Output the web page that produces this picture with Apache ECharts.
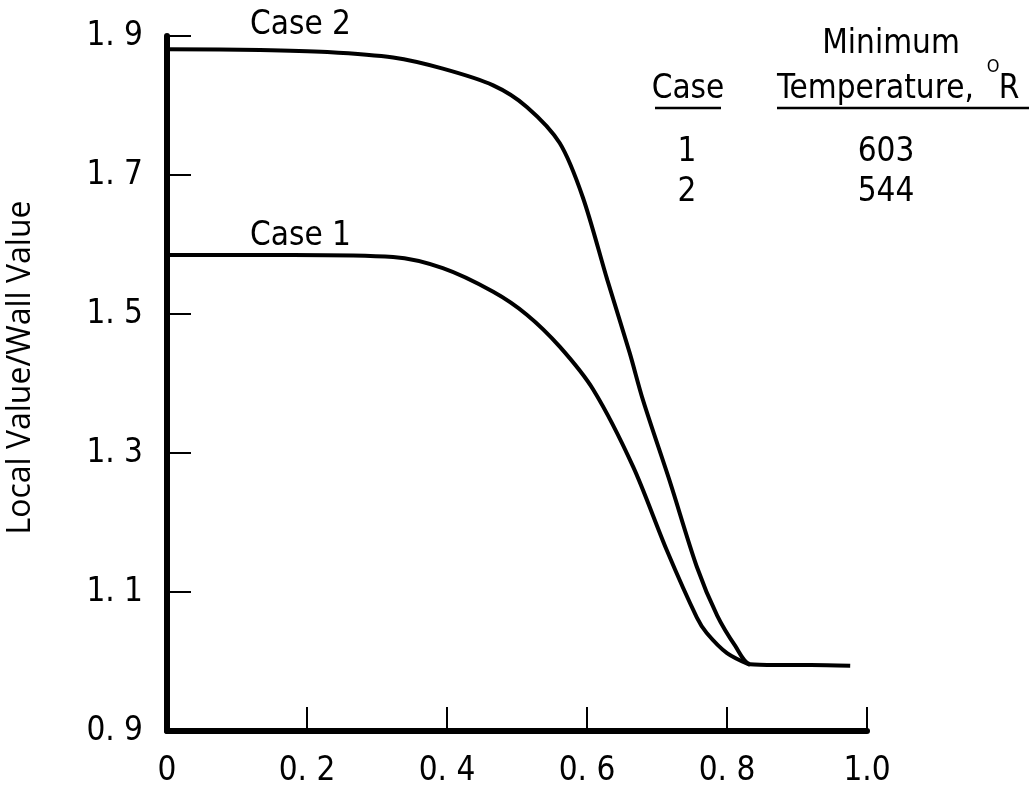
<!DOCTYPE html>
<html>
<head>
<meta charset="utf-8">
<script src="https://cdn.jsdelivr.net/npm/echarts@6/dist/echarts.min.js"></script>
<style>
  html, body { margin: 0; padding: 0; background: #fff; }
  #chart { width: 1029px; height: 794px; }
</style>
</head>
<body>
<div id="chart"></div>
<script>
// values
var case1X = [0, 0.18, 0.323, 0.394, 0.466, 0.514, 0.561, 0.609, 0.666, 0.714, 0.757, 0.771, 0.8, 0.833];
var case1Y = [1.585, 1.585, 1.582, 1.566, 1.532, 1.499, 1.453, 1.391, 1.28, 1.16, 1.063, 1.041, 1.012, 0.995];
var case2X = [0, 0.133, 0.229, 0.323, 0.394, 0.466, 0.514, 0.561, 0.594, 0.629, 0.661, 0.68, 0.719, 0.757, 0.786, 0.812, 0.833, 0.87, 0.92, 0.976];
var case2Y = [1.881, 1.88, 1.877, 1.869, 1.853, 1.829, 1.798, 1.746, 1.668, 1.549, 1.444, 1.376, 1.257, 1.136, 1.066, 1.022, 0.996, 0.995, 0.995, 0.994];

var xTicks = [0, 0.2, 0.4, 0.6, 0.8, 1.0];
var xTickLabels = ['0', '0. 2', '0. 4', '0. 6', '0. 8', '1.0'];
var yTicks = [0.9, 1.1, 1.3, 1.5, 1.7, 1.9];
var yTickLabels = ['0. 9', '1. 1', '1. 3', '1. 5', '1. 7', '1. 9'];

var tableCases = ['1', '2'];
var tableTemps = ['603', '544'];

var narrow = "'Liberation Sans Narrow', 'DejaVu Sans Condensed', sans-serif";

function pair(xs, ys) {
    return xs.map(function (x, i) { return [x, ys[i]]; });
}
function lookup(ticks, labels) {
    return function (v) {
        for (var i = 0; i < ticks.length; i++) {
            if (Math.abs(ticks[i] - v) < 1e-6) return labels[i];
        }
        return '';
    };
}

var chart = echarts.init(document.getElementById('chart'));

var graphics = [
    { type: 'text', style: { text: 'Case 2', x: 250, y: 25, font: '33px ' + narrow, fill: '#000', textVerticalAlign: 'middle' } },
    { type: 'text', style: { text: 'Case 1', x: 250, y: 236, font: '33px ' + narrow, fill: '#000', textVerticalAlign: 'middle' } },
    { type: 'text', style: { text: 'Minimum', x: 891, y: 44, font: '33px ' + narrow, fill: '#000', textAlign: 'center', textVerticalAlign: 'middle' } },
    { type: 'text', style: { text: 'Case', x: 688, y: 89, font: '33px ' + narrow, fill: '#000', textAlign: 'center', textVerticalAlign: 'middle' } },
    { type: 'text', style: { text: 'Temperature,', x: 777, y: 89, font: '33px ' + narrow, fill: '#000', textVerticalAlign: 'middle' } },
    { type: 'text', style: { text: 'O', x: 993, y: 67, font: '18px ' + narrow, fill: '#000', textAlign: 'center', textVerticalAlign: 'middle' } },
    { type: 'text', style: { text: 'R', x: 1009, y: 89, font: '33px ' + narrow, fill: '#000', textAlign: 'center', textVerticalAlign: 'middle' } },
    { type: 'line', shape: { x1: 655, y1: 108, x2: 721, y2: 108 }, style: { stroke: '#000', lineWidth: 2.5 } },
    { type: 'line', shape: { x1: 777, y1: 108, x2: 1029, y2: 108 }, style: { stroke: '#000', lineWidth: 2.5 } }
];
tableCases.forEach(function (c, i) {
    graphics.push({ type: 'text', style: { text: c, x: 687, y: 152 + i * 40, font: '33px ' + narrow, fill: '#000', textAlign: 'center', textVerticalAlign: 'middle' } });
    graphics.push({ type: 'text', style: { text: tableTemps[i], x: 886, y: 152 + i * 40, font: '33px ' + narrow, fill: '#000', textAlign: 'center', textVerticalAlign: 'middle' } });
});

var option = {
    animation: false,
    backgroundColor: '#fff',
    grid: { left: 167, right: 162, top: 36, bottom: 63, outerBoundsMode: 'none', containLabel: false },
    xAxis: {
        type: 'value',
        min: 0,
        max: 1.0,
        splitLine: { show: false },
        axisLine: { lineStyle: { color: '#000', width: 6 } },
        axisTick: { inside: true, length: 24, customValues: xTicks, lineStyle: { color: '#000', width: 2 } },
        axisLabel: {
            customValues: xTicks,
            formatter: lookup(xTicks, xTickLabels),
            margin: 24,
            color: '#000',
            fontSize: 33,
            fontFamily: narrow
        }
    },
    yAxis: {
        type: 'value',
        min: 0.9,
        max: 1.9,
        name: 'Local Value/Wall Value',
        nameLocation: 'middle',
        nameGap: 130,
        nameTextStyle: { color: '#000', fontSize: 32, fontFamily: "'Open Sans', sans-serif", padding: [0, 0, 0, 32] },
        splitLine: { show: false },
        axisLine: { lineStyle: { color: '#000', width: 6 } },
        axisTick: { inside: true, length: 24, customValues: yTicks, lineStyle: { color: '#000', width: 2 } },
        axisLabel: {
            customValues: yTicks,
            formatter: lookup(yTicks, yTickLabels),
            margin: 24,
            color: '#000',
            fontSize: 33,
            fontFamily: narrow
        }
    },
    series: [
        {
            name: 'Case 1',
            type: 'line',
            data: pair(case1X, case1Y),
            smooth: 0.3,
            showSymbol: false,
            lineStyle: { color: '#000', width: 4 }
        },
        {
            name: 'Case 2',
            type: 'line',
            data: pair(case2X, case2Y),
            smooth: 0.3,
            showSymbol: false,
            lineStyle: { color: '#000', width: 4 }
        }
    ],
    graphic: graphics
};

chart.setOption(option);
</script>
</body>
</html>
